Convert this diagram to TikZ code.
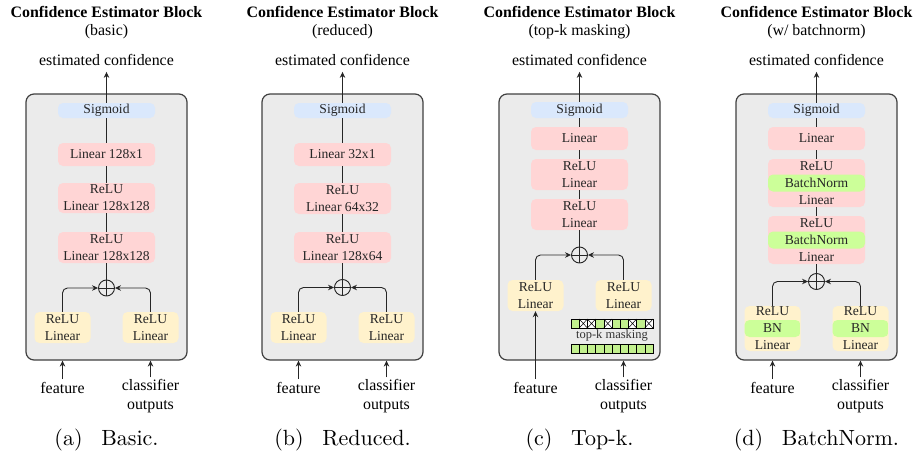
\documentclass[tikz,border=0pt]{standalone}
\usepackage{fontspec}
\usepackage{graphicx}
\newfontfamily\tms{Liberation Serif}
\usetikzlibrary{arrows.meta}

\definecolor{framefill}{HTML}{EBEBEB}
\definecolor{framedraw}{HTML}{404040}
\definecolor{sigblue}{HTML}{DAE8FC}
\definecolor{linpink}{HTML}{FFD5D5}
\definecolor{inyellow}{HTML}{FFF2CC}
\definecolor{bngreen}{HTML}{CCFF99}
\definecolor{maskgreen}{HTML}{C2F08E}

\tikzset{
  outer/.style={draw=framedraw, fill=framefill, line width=1.2pt, rounded corners=8pt,
    minimum width=161pt, minimum height=266pt, inner sep=0pt},
  blk/.style={rounded corners=5pt, inner sep=0pt, minimum width=97pt, align=center,
    font=\tms\fontsize{13.6}{17}\selectfont, text=black!85},
  sigbox/.style={blk, fill=sigblue, minimum height=15pt},
  linbox/.style={blk, fill=linpink, minimum height=#1},
  inbox/.style={blk, fill=inyellow, minimum width=56pt, minimum height=#1},
  bnband/.style={path picture={\fill[bngreen]
      ([yshift=-8.5pt]path picture bounding box.west) rectangle
      ([yshift=8.5pt]path picture bounding box.east);}},
  sum/.style={circle, draw=black!85, line width=0.9pt, minimum size=16pt, inner sep=0pt,
    path picture={\draw[black!85, line width=0.9pt]
      (path picture bounding box.north) -- (path picture bounding box.south)
      (path picture bounding box.west) -- (path picture bounding box.east);}},
  conn/.style={draw=black!85, line width=0.9pt},
  arr/.style={conn, -{Stealth[length=6pt, width=5.5pt]}},
  side/.style={arr, rounded corners=5pt},
  lbl/.style={inner sep=0pt, align=center, font=\tms\fontsize{15.9}{18.5}\selectfont},
  ttl/.style={inner sep=0pt, font=\tms\bfseries\fontsize{15.9}{18.5}\selectfont},
  captxt/.style={inner sep=0pt},
  masktext/.style={inner sep=0pt, font=\tms\fontsize{12.5}{14}\selectfont, text=black!80},
  cell/.style={draw=black, line width=0.5pt, fill=maskgreen},
}

% sub-figure caption: 10pt text enlarged as a whole
\newcommand{\subcap}[2]{\scalebox{2.2}{\fontsize{10}{12}\selectfont(#1)\hspace{0.85em}#2}}

% frame, headings, input labels and caption of one block
\newcommand{\panelframe}[5]{%
  \node[outer] (#1-frame) at (#2,227) {};
  \node[ttl] (#1-title) at (#2,12) {Confidence Estimator Block};
  \node[lbl] (#1-sub) at (#2,31.5) {(#3)};
  \node[lbl] (#1-out) at (#2,60) {estimated confidence};
  \node[lbl] (#1-feat) at ({#2-44},388) {feature};
  \node[lbl] (#1-cls) at ({#2+44},396) {classifier\\outputs};
  \node[captxt] (#1-cap) at (#2,440) {\subcap{#4}{#5}};
}

\begin{document}
\begin{tikzpicture}[x=1pt, y=-1pt]
\useasboundingbox (0,0) rectangle (914,458);

% ---------------- (a) basic ----------------
\panelframe{a}{106.5}{basic}{a}{Basic.}
\node[sigbox] (a-sig) at (106.5,110.5) {Sigmoid};
\node[linbox=23pt] (a-l1) at (106.5,154.5) {Linear 128x1};
\node[linbox=30pt] (a-r2) at (106.5,198) {ReLU\\Linear 128x128};
\node[linbox=31pt] (a-r3) at (106.5,247.5) {ReLU\\Linear 128x128};
\node[sum] (a-s) at (106.5,288) {};
\node[inbox=31pt] (a-fl) at (62.5,327.5) {ReLU\\Linear};
\node[inbox=31pt] (a-cl) at (150.5,327.5) {ReLU\\Linear};
\draw[arr] (a-sig.north) -- ([yshift=-6pt]a-out.south);
\draw[conn] (a-sig.south) -- (a-l1.north);
\draw[conn] (a-l1.south) -- (a-r2.north);
\draw[conn] (a-r2.south) -- (a-r3.north);
\draw[conn] (a-r3.south) -- (a-s.north);
\draw[side] (a-fl.north) |- (a-s.west);
\draw[side] (a-cl.north) |- (a-s.east);
\draw[arr] ([yshift=3pt]a-feat.north) -- (a-feat.north |- a-frame.south);
\draw[arr] ([yshift=2pt]a-cls.north) -- (a-cls.north |- a-frame.south);

% ---------------- (b) reduced ----------------
\panelframe{b}{342.5}{reduced}{b}{Reduced.}
\node[sigbox] (b-sig) at (342.5,110.5) {Sigmoid};
\node[linbox=23pt] (b-l1) at (342.5,154.5) {Linear 32x1};
\node[linbox=31pt] (b-r2) at (342.5,198.5) {ReLU\\Linear 64x32};
\node[linbox=31pt] (b-r3) at (342.5,247.5) {ReLU\\Linear 128x64};
\node[sum] (b-s) at (342.5,287.5) {};
\node[inbox=31pt] (b-fl) at (298.5,327.5) {ReLU\\Linear};
\node[inbox=31pt] (b-cl) at (386.5,327.5) {ReLU\\Linear};
\draw[arr] (b-sig.north) -- ([yshift=-6pt]b-out.south);
\draw[conn] (b-sig.south) -- (b-l1.north);
\draw[conn] (b-l1.south) -- (b-r2.north);
\draw[conn] (b-r2.south) -- (b-r3.north);
\draw[conn] (b-r3.south) -- (b-s.north);
\draw[side] (b-fl.north) |- (b-s.west);
\draw[side] (b-cl.north) |- (b-s.east);
\draw[arr] ([yshift=3pt]b-feat.north) -- (b-feat.north |- b-frame.south);
\draw[arr] ([yshift=2pt]b-cls.north) -- (b-cls.north |- b-frame.south);

% ---------------- (c) top-k masking ----------------
\panelframe{c}{579.5}{top-k masking}{c}{Top-k.}
\node[sigbox, minimum height=16pt] (c-sig) at (579.5,110) {Sigmoid};
\node[linbox=23pt] (c-l1) at (579.5,138.5) {Linear};
\node[linbox=31pt] (c-r2) at (579.5,174.5) {ReLU\\Linear};
\node[linbox=31pt] (c-r3) at (579.5,214.5) {ReLU\\Linear};
\node[sum] (c-s) at (579.5,255) {};
\node[inbox=31pt] (c-fl) at (535.5,295.5) {ReLU\\Linear};
\node[inbox=31pt] (c-cl) at (623.5,295.5) {ReLU\\Linear};
\draw[arr] (c-sig.north) -- ([yshift=-6pt]c-out.south);
\draw[conn] (c-sig.south) -- (c-l1.north);
\draw[conn] (c-l1.south) -- (c-r2.north);
\draw[conn] (c-r2.south) -- (c-r3.north);
\draw[conn] (c-r3.south) -- (c-s.north);
\draw[side] (c-fl.north) |- (c-s.west);
\draw[side] (c-cl.north) |- (c-s.east);
\draw[arr] ([yshift=3pt]c-feat.north) -- (c-fl.south);
\draw[arr] ([yshift=2pt]c-cls.north) -- (c-cls.north |- c-frame.south);
% masked scores (top) and raw scores (bottom)
\foreach \i in {0,...,9} {
  \draw[cell] ({571+8.2*\i},319) rectangle ++(8.2,9);
  \draw[cell] ({571+8.2*\i},344) rectangle ++(8.2,9);
}
\foreach \i in {1,2,4,7,9} {
  \draw[cell, fill=white] ({571+8.2*\i},319) rectangle ++(8.2,9);
  \draw[line width=0.5pt] ({571+8.2*\i},319) -- ++(8.2,9) ++(-8.2,0) -- ++(8.2,-9);
}
\node[masktext] (c-mask) at (612,335.5) {top-k masking};

% ---------------- (d) w/ batchnorm ----------------
\panelframe{d}{816.5}{w/ batchnorm}{d}{BatchNorm.}
\node[sigbox] (d-sig) at (816.5,110.5) {Sigmoid};
\node[linbox=23pt] (d-l1) at (816.5,138.5) {Linear};
\node[linbox=48pt, bnband] (d-r2) at (816.5,183) {ReLU\\BatchNorm\\Linear};
\node[linbox=48pt, bnband] (d-r3) at (816.5,240) {ReLU\\BatchNorm\\Linear};
\node[sum] (d-s) at (816.5,281.5) {};
\node[inbox=45pt, bnband] (d-fl) at (772.5,328.5) {ReLU\\BN\\Linear};
\node[inbox=45pt, bnband] (d-cl) at (860.5,328.5) {ReLU\\BN\\Linear};
\draw[arr] (d-sig.north) -- ([yshift=-6pt]d-out.south);
\draw[conn] (d-sig.south) -- (d-l1.north);
\draw[conn] (d-l1.south) -- (d-r2.north);
\draw[conn] (d-r2.south) -- (d-r3.north);
\draw[conn] (d-r3.south) -- (d-s.north);
\draw[side] (d-fl.north) |- (d-s.west);
\draw[side] (d-cl.north) |- (d-s.east);
\draw[arr] ([yshift=3pt]d-feat.north) -- (d-feat.north |- d-frame.south);
\draw[arr] ([yshift=2pt]d-cls.north) -- (d-cls.north |- d-frame.south);
\end{tikzpicture}
\end{document}
